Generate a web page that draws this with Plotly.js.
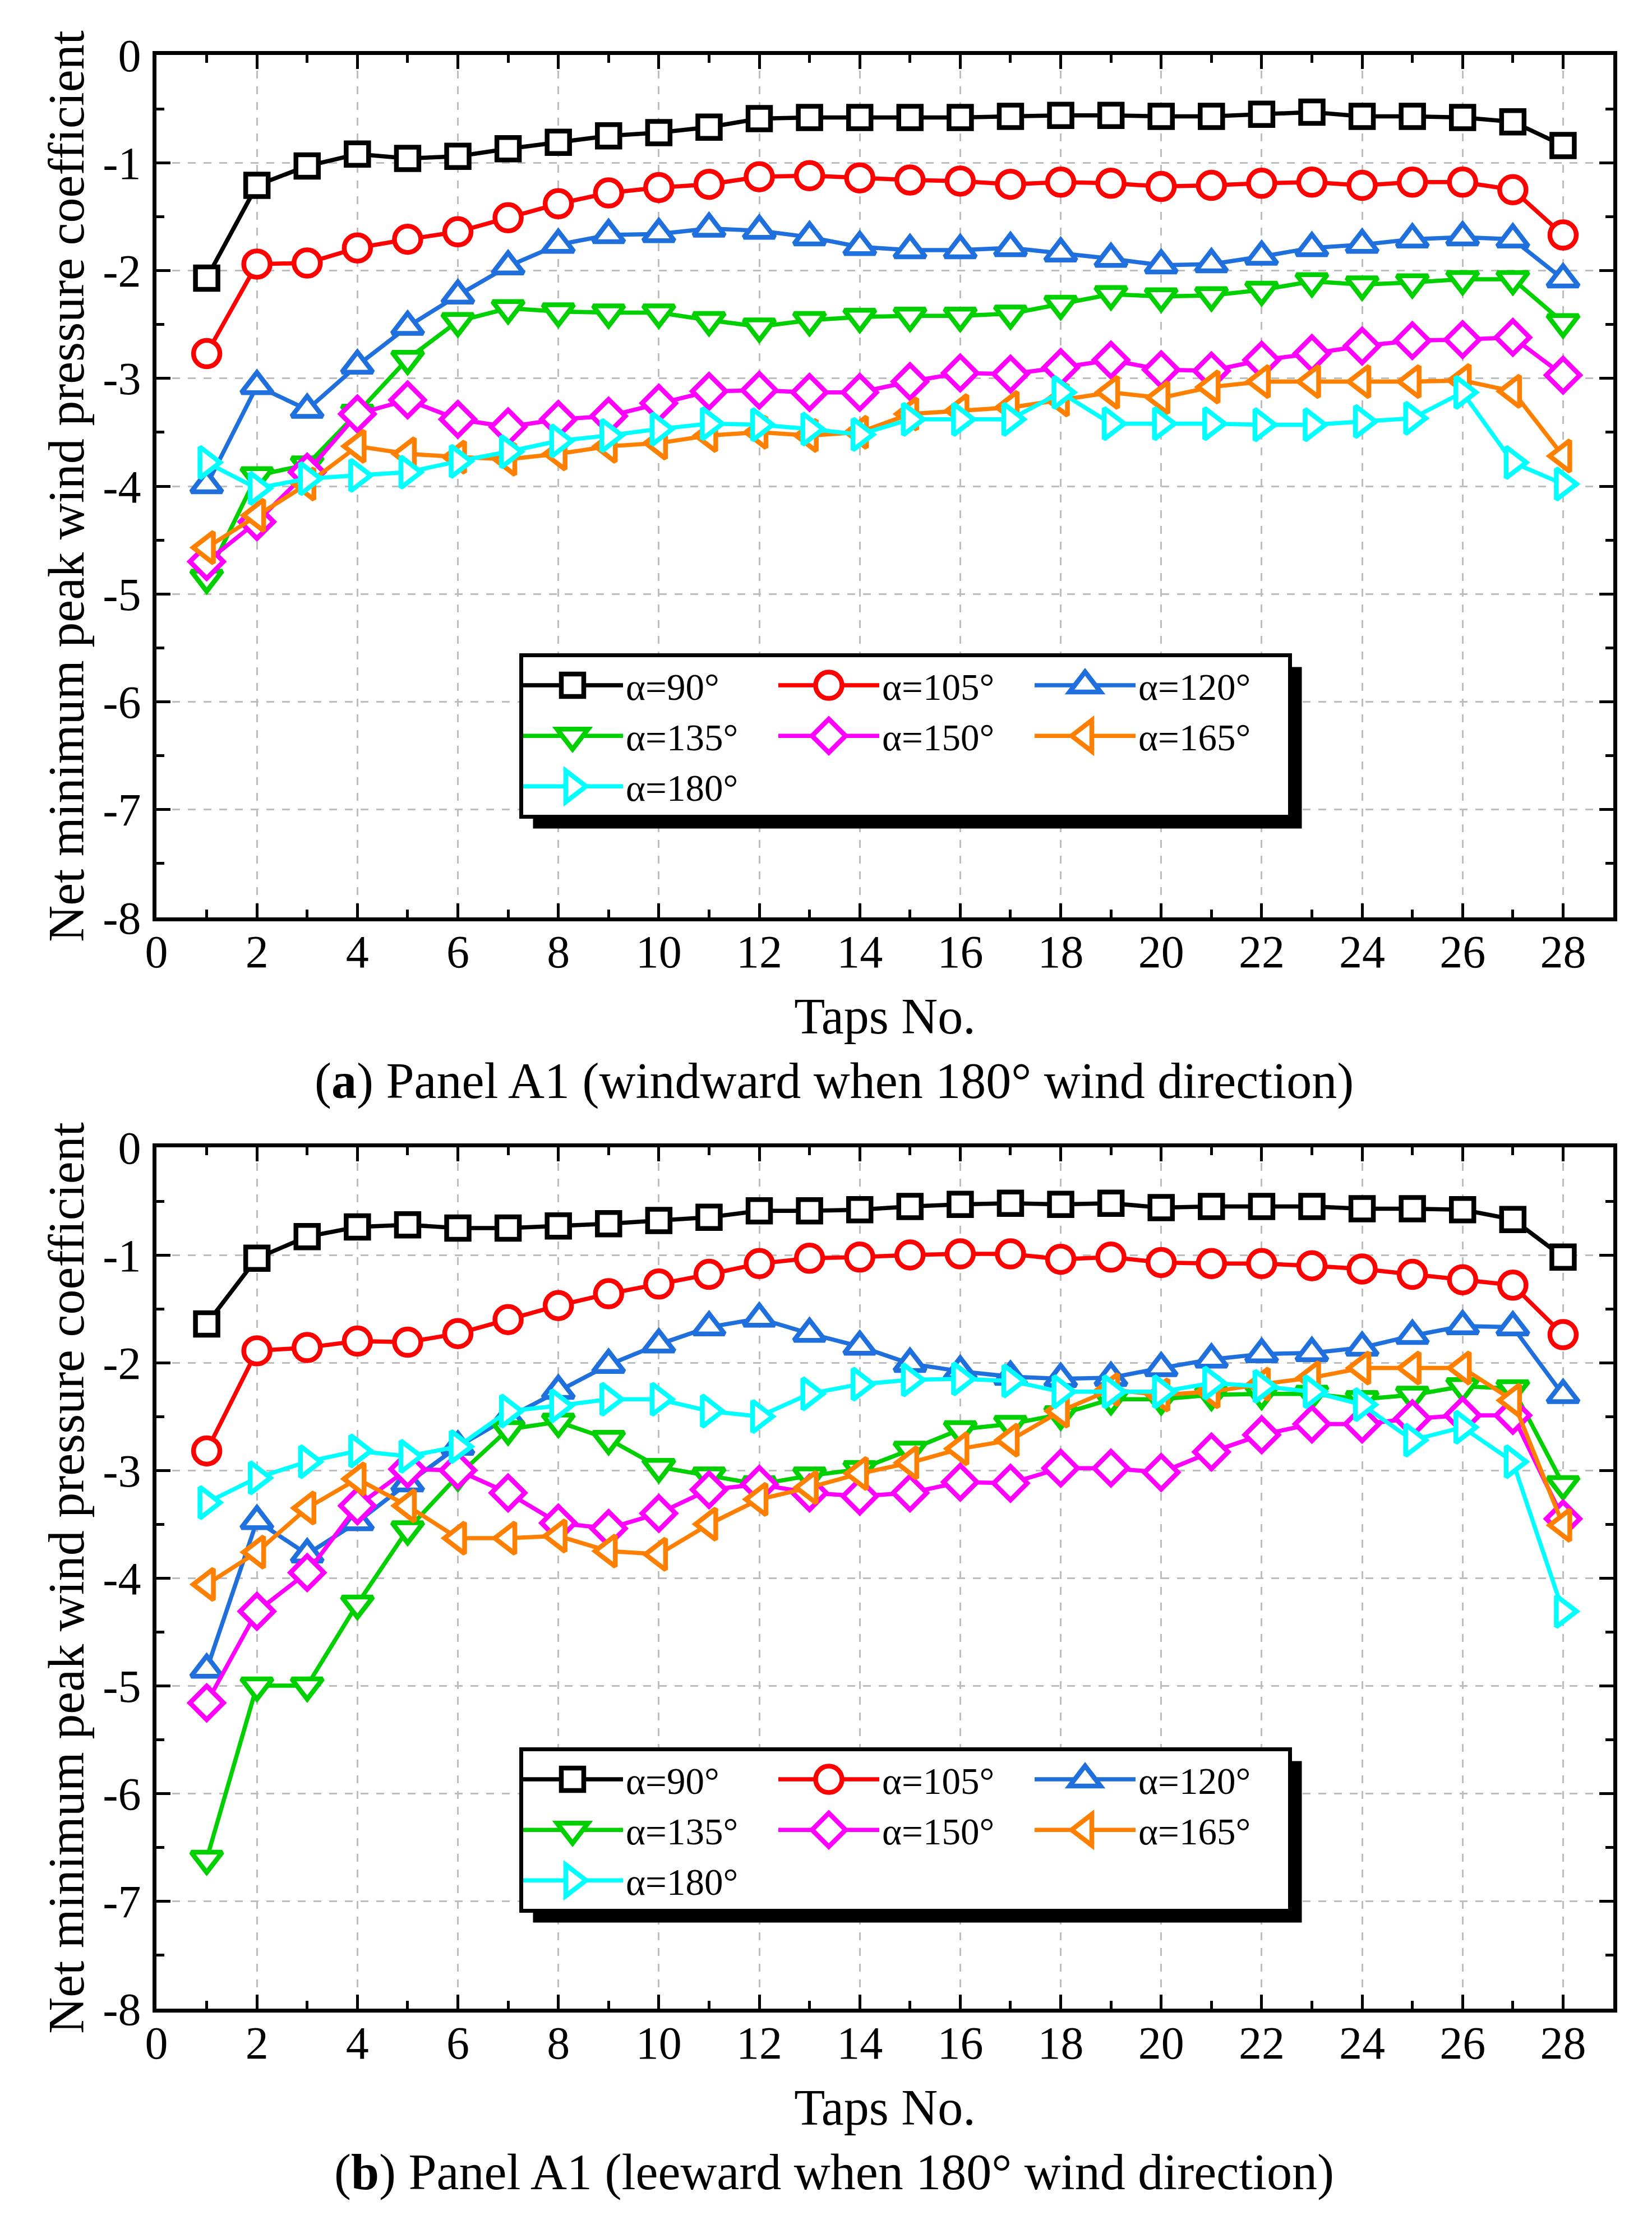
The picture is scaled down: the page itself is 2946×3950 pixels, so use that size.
<!DOCTYPE html>
<html>
<head>
<meta charset="utf-8">
<script src="https://cdn.plot.ly/plotly-3.0.1.min.js"></script>
<style>html,body{margin:0;padding:0;background:#ffffff;}</style>
</head>
<body>
<div id="chart" style="width:2946px;height:3950px;"></div>
<script>
// ---------------- data ----------------
const taps = [1,2,3,4,5,6,7,8,9,10,11,12,13,14,15,16,17,18,19,20,21,22,23,24,25,26,27,28];
const seriesNames = ['α=90°','α=105°','α=120°','α=135°','α=150°','α=165°','α=180°'];

// (a) windward
const a90  = [-2.07,-1.21,-1.03,-0.92,-0.96,-0.94,-0.87,-0.81,-0.75,-0.72,-0.67,-0.59,-0.58,-0.58,-0.58,-0.58,-0.57,-0.56,-0.56,-0.57,-0.57,-0.55,-0.53,-0.57,-0.57,-0.58,-0.62,-0.84];
const a105 = [-2.77,-1.94,-1.93,-1.79,-1.71,-1.64,-1.51,-1.38,-1.28,-1.23,-1.20,-1.13,-1.12,-1.14,-1.16,-1.17,-1.20,-1.18,-1.19,-1.22,-1.21,-1.19,-1.18,-1.21,-1.18,-1.18,-1.25,-1.67];
const a120 = [-3.99,-3.07,-3.29,-2.88,-2.52,-2.23,-1.96,-1.76,-1.67,-1.66,-1.61,-1.63,-1.69,-1.78,-1.81,-1.81,-1.79,-1.84,-1.89,-1.95,-1.94,-1.87,-1.79,-1.76,-1.71,-1.69,-1.71,-2.08];
const a135 = [-4.85,-3.90,-3.80,-3.32,-2.82,-2.47,-2.35,-2.38,-2.39,-2.39,-2.46,-2.52,-2.46,-2.43,-2.42,-2.42,-2.40,-2.31,-2.22,-2.24,-2.23,-2.18,-2.10,-2.13,-2.11,-2.08,-2.08,-2.48];
const a150 = [-4.70,-4.33,-3.87,-3.33,-3.20,-3.38,-3.45,-3.38,-3.35,-3.23,-3.12,-3.11,-3.13,-3.13,-3.03,-2.95,-2.96,-2.90,-2.83,-2.92,-2.93,-2.83,-2.77,-2.70,-2.65,-2.64,-2.62,-2.97];
const a165 = [-4.57,-4.27,-3.98,-3.63,-3.70,-3.73,-3.75,-3.70,-3.63,-3.60,-3.53,-3.50,-3.53,-3.50,-3.33,-3.30,-3.27,-3.20,-3.13,-3.18,-3.08,-3.03,-3.03,-3.03,-3.03,-3.02,-3.12,-3.72];
const a180 = [-3.78,-4.02,-3.93,-3.90,-3.87,-3.77,-3.68,-3.58,-3.53,-3.47,-3.42,-3.43,-3.47,-3.52,-3.38,-3.38,-3.38,-3.13,-3.42,-3.42,-3.42,-3.43,-3.43,-3.40,-3.37,-3.13,-3.78,-3.98];

// (b) leeward
const b90  = [-1.64,-1.03,-0.83,-0.74,-0.72,-0.75,-0.75,-0.73,-0.71,-0.68,-0.65,-0.59,-0.59,-0.58,-0.55,-0.53,-0.52,-0.53,-0.52,-0.56,-0.55,-0.55,-0.55,-0.57,-0.57,-0.58,-0.67,-1.02];
const b105 = [-2.82,-1.89,-1.86,-1.80,-1.81,-1.73,-1.60,-1.47,-1.36,-1.27,-1.18,-1.08,-1.03,-1.02,-1.00,-0.99,-0.99,-1.04,-1.02,-1.07,-1.08,-1.08,-1.10,-1.13,-1.18,-1.23,-1.28,-1.74];
const b120 = [-4.85,-3.47,-3.78,-3.48,-3.12,-2.78,-2.51,-2.26,-2.02,-1.83,-1.67,-1.59,-1.73,-1.85,-2.01,-2.08,-2.13,-2.15,-2.14,-2.05,-1.97,-1.92,-1.91,-1.86,-1.75,-1.66,-1.67,-2.30];
const b135 = [-6.61,-5.00,-5.00,-4.24,-3.55,-3.05,-2.62,-2.55,-2.71,-2.97,-3.05,-3.13,-3.05,-2.99,-2.81,-2.62,-2.57,-2.48,-2.34,-2.34,-2.30,-2.29,-2.29,-2.34,-2.30,-2.22,-2.24,-3.13];
const b150 = [-5.16,-4.31,-3.95,-3.33,-2.99,-3.00,-3.21,-3.49,-3.54,-3.40,-3.18,-3.13,-3.21,-3.24,-3.21,-3.11,-3.12,-2.98,-2.98,-3.02,-2.83,-2.67,-2.57,-2.57,-2.52,-2.49,-2.49,-3.45];
const b165 = [-4.06,-3.76,-3.35,-3.08,-3.33,-3.63,-3.63,-3.61,-3.75,-3.78,-3.50,-3.27,-3.16,-3.03,-2.93,-2.80,-2.72,-2.45,-2.25,-2.30,-2.27,-2.20,-2.14,-2.05,-2.05,-2.05,-2.35,-3.51];
const b180 = [-3.30,-3.07,-2.92,-2.82,-2.87,-2.78,-2.45,-2.40,-2.34,-2.34,-2.45,-2.50,-2.29,-2.20,-2.16,-2.15,-2.17,-2.27,-2.27,-2.27,-2.19,-2.22,-2.27,-2.39,-2.72,-2.60,-2.92,-4.31];

const xTickVals = [0,2,4,6,8,10,12,14,16,18,20,22,24,26,28];
const yTickVals = [0,-1,-2,-3,-4,-5,-6,-7,-8];
const yTickText = ['0','-1','-2','-3','-4','-5','-6','-7','-8'];

const captionA = '(<b>a</b>) Panel A1 (windward when 180° wind direction)';
const captionB = '(<b>b</b>) Panel A1 (leeward when 180° wind direction)';
const xTitle = 'Taps No.';
const yTitle = 'Net minimum peak wind pressure coefficient';

// ---------------- styles ----------------
const colors  = ['#000000','#ff0000','#1f6fdc','#00d000','#ff00ff','#ff8000','#00ffff'];
const symbols = ['square','circle','triangle-up','triangle-down','diamond','triangle-left','triangle-right'];
const msizes  = [40,47,48,48,46,48,48];
const groups  = ['1','2','3','1','2','3','1'];
const FONT = 'Liberation Serif, Times New Roman, serif';
const LINE_W = 7.5, MARKER_LW = 8.5;

const panelA = [a90,a105,a120,a135,a150,a165,a180];
const panelB = [b90,b105,b120,b135,b150,b165,b180];

function makeTraces(series, xa, ya, legendId, pfx) {
  return series.map((ys, i) => ({
    type: 'scatter', mode: 'lines+markers',
    x: taps, y: ys, xaxis: xa, yaxis: ya,
    name: seriesNames[i], legend: legendId, legendgroup: pfx + groups[i],
    line: {color: colors[i], width: LINE_W},
    marker: {symbol: symbols[i], size: msizes[i], color: '#ffffff',
             line: {color: colors[i], width: MARKER_LW}},
    cliponaxis: false
  }));
}
const traces = makeTraces(panelA, 'x', 'y', 'legend', 'a')
  .concat(makeTraces(panelB, 'x2', 'y2', 'legend2', 'b'));

const W = 2946, H = 3950;
const xDom = [279/W, 2877/W];
const yDomA = [1-1636/H, 1-98/H];
const yDomB = [1-3582/H, 1-2046/H];

function xAxis(anchor) {
  return {
    domain: xDom, anchor: anchor, range: [0, 29],
    tickmode: 'array', tickvals: xTickVals,
    ticks: 'inside', ticklen: 25, tickwidth: 5, tickcolor: '#000',
    showline: true, linewidth: 7, linecolor: '#000', mirror: 'ticks',
    showgrid: true, gridcolor: '#bdbdbd', gridwidth: 3, griddash: '14px,14px',
    zeroline: false,
    minor: {tickmode: 'linear', tick0: 0, dtick: 1, ticks: 'inside', ticklen: 14, tickwidth: 5, tickcolor: '#000', showgrid: false},
    tickfont: {family: FONT, size: 82, color: '#000'},
    ticklabelstandoff: -16,
    title: {text: xTitle, font: {family: FONT, size: 90, color: '#000'}, standoff: 40},
    fixedrange: true
  };
}
function yAxis(anchor, dom) {
  return {
    domain: dom, anchor: anchor, range: [-8, 0],
    tickmode: 'array', tickvals: yTickVals, ticktext: yTickText,
    ticks: 'inside', ticklen: 25, tickwidth: 5, tickcolor: '#000',
    showline: true, linewidth: 7, linecolor: '#000', mirror: 'ticks',
    showgrid: true, gridcolor: '#bdbdbd', gridwidth: 3, griddash: '14px,14px',
    zeroline: false,
    minor: {tickmode: 'linear', tick0: 0, dtick: 0.5, ticks: 'inside', ticklen: 14, tickwidth: 5, tickcolor: '#000', showgrid: false},
    tickfont: {family: FONT, size: 82, color: '#000'},
    ticklabelstandoff: 4,
    title: {text: yTitle, font: {family: FONT, size: 90, color: '#000'}, standoff: 6},
    fixedrange: true
  };
}

function legendBox(y) {
  return {
    x: 926/W, y: y, xanchor: 'left', yanchor: 'top',
    orientation: 'h', traceorder: 'grouped', tracegroupgap: 0,
    entrywidth: 262, entrywidthmode: 'pixels', itemwidth: 180,
    bgcolor: '#ffffff', bordercolor: '#000000', borderwidth: 7,
    font: {family: FONT, size: 67, color: '#000'}
  };
}

const layout = {
  width: W, height: H,
  margin: {l: 0, r: 0, t: 0, b: 0},
  paper_bgcolor: '#ffffff', plot_bgcolor: '#ffffff',
  font: {family: FONT, color: '#000'},
  showlegend: true,
  xaxis: xAxis('y'), yaxis: yAxis('x', yDomA),
  xaxis2: xAxis('y2'), yaxis2: yAxis('x2', yDomB),
  legend: legendBox(1-1165/H),
  legend2: legendBox(1-3116/H),
  annotations: [
    {text: captionA, xref: 'paper', yref: 'paper', x: 1487/W, y: 1-1928/H, xanchor: 'center', yanchor: 'middle', showarrow: false, font: {family: FONT, size: 90, color: '#000'}},
    {text: captionB, xref: 'paper', yref: 'paper', x: 1487/W, y: 1-3874/H, xanchor: 'center', yanchor: 'middle', showarrow: false, font: {family: FONT, size: 90, color: '#000'}}
  ]
};

// Legend symbols: reuse the exact marker outline drawn in the plot (Plotly caps legend marker size).
function enlargeLegendSymbols(gd) {
  const pointPaths = {};
  gd.querySelectorAll('.scatterlayer .trace').forEach(tr => {
    const d = tr.__data__;
    if (!d || !d[0] || !d[0].trace) return;
    const p = tr.querySelector('.points path.point');
    if (p) pointPaths[d[0].trace.index] = p.getAttribute('d');
  });
  gd.querySelectorAll('.infolayer g.traces').forEach(g => {
    const d = g.__data__;
    if (!d || !d[0] || !d[0].trace) return;
    const idx = d[0].trace.index;
    const sp = g.querySelector('.legendpoints path.scatterpts');
    if (sp && pointPaths[idx]) {
      sp.setAttribute('d', pointPaths[idx]);
      sp.style.strokeWidth = MARKER_LW + 'px';
    }
  });
  return gd;
}

// Drop shadow behind each legend box, offset down-right.
function addShadows(gd) {
  const off = 21;
  const shapes = [];
  gd.querySelectorAll('.infolayer > g[class^="legend"] > rect.bg').forEach(r => {
    const b = r.getBoundingClientRect();
    const x0 = b.left + off, x1 = b.right + off, y0 = b.top + off, y1 = b.bottom + off;
    shapes.push({type: 'rect', xref: 'paper', yref: 'paper', layer: 'above',
      x0: x0/W, x1: x1/W, y0: 1-y1/H, y1: 1-y0/H,
      fillcolor: '#000000', line: {width: 0}});
  });
  return Plotly.relayout(gd, {shapes: shapes}).then(() => enlargeLegendSymbols(gd));
}

Plotly.newPlot('chart', traces, layout, {staticPlot: true, displayModeBar: false})
  .then(enlargeLegendSymbols)
  .then(addShadows);
</script>
</body>
</html>
